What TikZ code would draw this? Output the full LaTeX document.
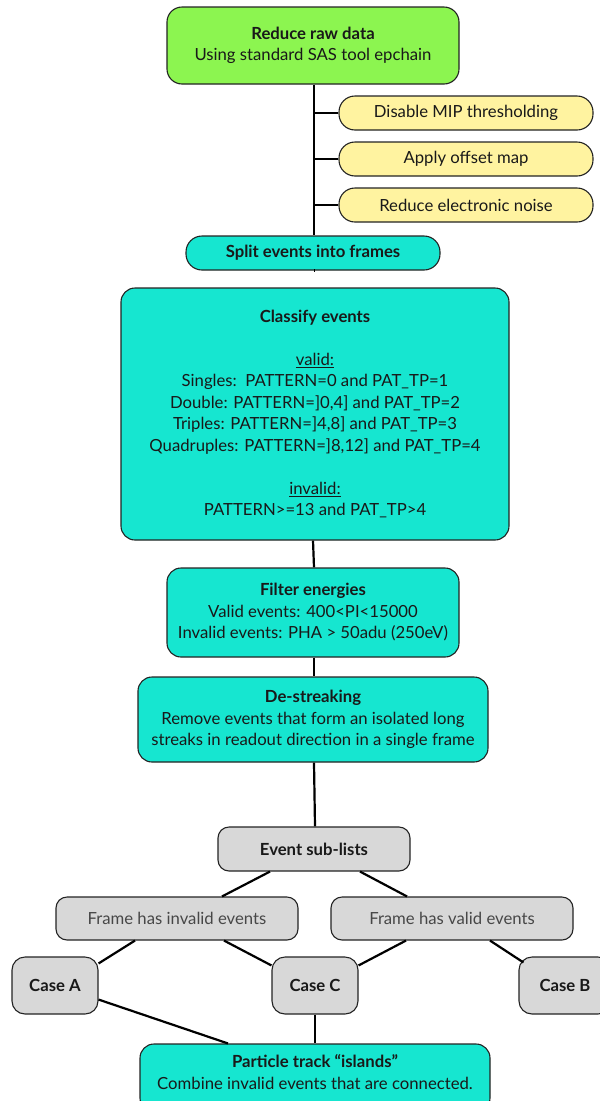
\documentclass[tikz,border=0pt]{standalone}
\usepackage{fontspec}
\setmainfont{Lato}
\usetikzlibrary{calc}
\definecolor{cgreen}{RGB}{140,245,80}
\definecolor{ccyan}{RGB}{22,230,208}
\definecolor{cyellow}{RGB}{255,243,160}
\definecolor{cgray}{RGB}{216,216,216}
\definecolor{cborder}{RGB}{35,35,35}
\definecolor{ctext}{RGB}{25,25,25}
\tikzset{
  box/.style={draw=cborder, line width=1.1pt, align=center, inner sep=2pt, text=ctext,
    font=\fontsize{16.7}{21.5}\selectfont},
  greenbox/.style={box, fill=cgreen, rounded corners=15pt},
  cyanbox/.style={box, fill=ccyan, rounded corners=14pt},
  pill/.style={box, fill=cyellow, rounded corners=16pt},
  graybox/.style={box, fill=cgray, rounded corners=11pt},
  conn/.style={line width=2.2pt, draw=black}
}
\begin{document}
\begin{tikzpicture}[x=1pt,y=-1pt]
\useasboundingbox (0,0) rectangle (600,1101);
\clip (0,0) rectangle (600,1101);
% nodes
\node[greenbox, minimum width=292pt, minimum height=77pt] (raw) at (313,45.5)
  {\textbf{Reduce raw data}\\Using standard SAS tool epchain};
\node[pill, minimum width=254pt, minimum height=34pt] (mip) at (466,113) {Disable MIP thresholding};
\node[pill, minimum width=254pt, minimum height=34pt] (offset) at (466,159) {Apply offset map};
\node[pill, minimum width=254pt, minimum height=34pt] (noise) at (466,205) {Reduce electronic noise};
\node[cyanbox, rounded corners=16pt, minimum width=254pt, minimum height=34pt] (split) at (313,253) {\textbf{Split events into frames}};
\node[cyanbox, minimum width=388pt, minimum height=252pt] (classify) at (315,414)
  {\textbf{Classify events}\\[21.5pt]
   \underline{valid:}\\
   Singles:\ \ PATTERN=0 and PAT\_TP=1\\
   Double: PATTERN=]0,4] and PAT\_TP=2\\
   Triples: PATTERN=]4,8] and PAT\_TP=3\\
   Quadruples: PATTERN=]8,12] and PAT\_TP=4\\[21.5pt]
   \underline{invalid:}\\
   PATTERN>=13 and PAT\_TP>4};
\node[cyanbox, minimum width=292pt, minimum height=89pt] (filter) at (313,612.5)
  {\textbf{Filter energies}\\Valid events: 400<PI<15000\\Invalid events: PHA > 50adu (250eV)};
\node[cyanbox, minimum width=350pt, minimum height=85pt] (destreak) at (313,719.5)
  {\textbf{De-streaking}\\Remove events that form an isolated long\\streaks in readout direction in a single frame};
\node[graybox, minimum width=192pt, minimum height=44pt] (sub) at (314,849) {\textbf{Event sub-lists}};
\node[graybox, text=black!72, minimum width=242pt, minimum height=43pt] (inv) at (177,918.5) {Frame has invalid events};
\node[graybox, text=black!72, minimum width=242pt, minimum height=43pt] (val) at (452,918.5) {Frame has valid events};
\node[graybox, rounded corners=13pt, minimum width=86pt, minimum height=57pt] (caseA) at (55,985.5) {\textbf{Case A}};
\node[graybox, rounded corners=13pt, minimum width=86pt, minimum height=57pt] (caseC) at (315,985.5) {\textbf{Case C}};
\node[graybox, rounded corners=13pt, minimum width=92pt, minimum height=57pt] (caseB) at (565,985.5) {\textbf{Case B}};
\node[cyanbox, minimum width=350pt, minimum height=68pt] (particle) at (315,1078) {};
\node[box, draw=none, anchor=north] (ptext) at (315,1052)
  {\textbf{Particle track “islands”}\\Combine invalid events that are connected.};
% connectors
\draw[conn] ([xshift=1pt]raw.south) -- ([xshift=1pt]split.north);
\draw[conn] ([xshift=1pt]raw.south |- mip.west) -- (mip.west);
\draw[conn] ([xshift=1pt]raw.south |- offset.west) -- (offset.west);
\draw[conn] ([xshift=1pt]raw.south |- noise.west) -- (noise.west);
\draw[conn] ([xshift=1pt]split.south) -- (split.south -| classify.north);
\draw[conn] (classify.south -| filter.north) -- ([xshift=1pt]filter.north);
\draw[conn] ([xshift=1pt]filter.south) -- ([xshift=1pt]destreak.north);
\draw[conn] ([xshift=1pt]destreak.south) -- ([xshift=2pt]destreak.south |- sub.north);
\draw[conn] ([xshift=-44pt]sub.south) -- ([xshift=45pt]inv.north);
\draw[conn] ([xshift=46pt]sub.south) -- ([xshift=-45pt]val.north);
\draw[conn] ([xshift=-42pt]inv.south) -- ([yshift=-7pt]caseA.north east);
\draw[conn] ([xshift=47pt]inv.south) -- ([yshift=-9pt]caseC.north west);
\draw[conn] ([xshift=-46pt]val.south) -- ([yshift=-9pt]caseC.north east);
\draw[conn] ([xshift=38pt]val.south) -- ([xshift=5pt,yshift=-6pt]caseB.north west);
\draw[conn] ([yshift=15pt]caseA.south east) -- ([xshift=-87pt]particle.north);
\draw[conn] (caseC.south) -- (caseC.south |- particle.north);
\end{tikzpicture}
\end{document}
